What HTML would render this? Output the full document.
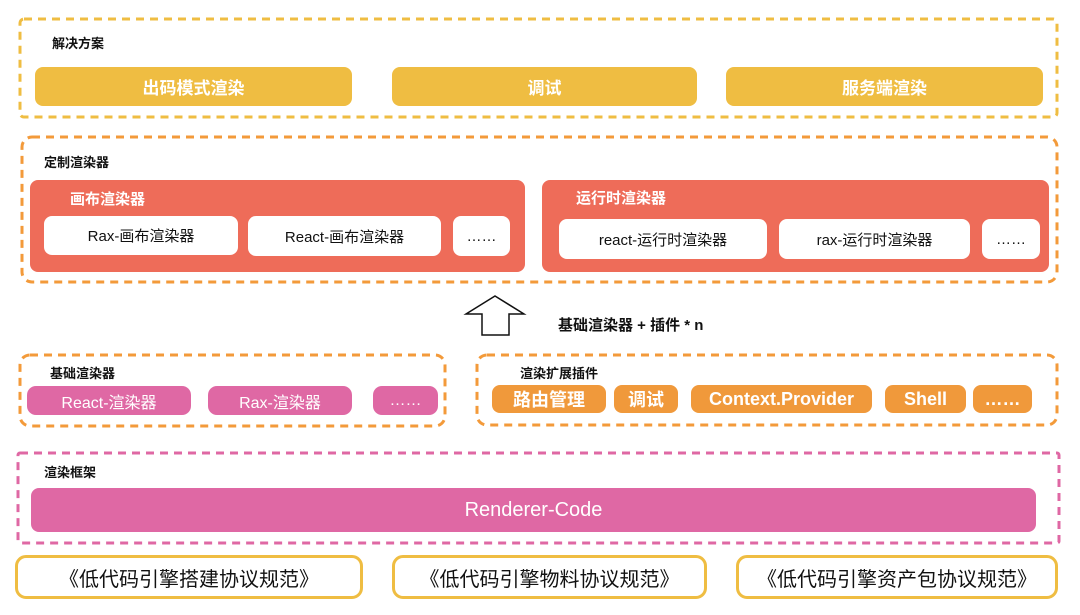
<!DOCTYPE html>
<html><head><meta charset="utf-8"><style>
body{margin:0;width:1080px;height:615px;background:#fff;position:relative;overflow:hidden;font-family:"Liberation Sans","Noto Sans CJK SC",sans-serif;}
.a{position:absolute;box-sizing:border-box;display:flex;align-items:center;justify-content:center;}
.l{position:absolute;font-size:13px;font-weight:bold;color:#111;}
.y{background:#efbd42;color:#fff;font-size:17px;font-weight:bold;border-radius:8px;}
.w{background:#fff;color:#111;font-size:15px;border-radius:8px;}
.p{background:#df68a4;color:#fff;font-size:16px;border-radius:9px;}
.o{background:#f0993b;color:#fff;font-size:18px;font-weight:bold;border-radius:8px;}
.b{border:3px solid #efbd42;border-radius:11px;font-size:20px;color:#111;}
</style></head><body>
<svg width="1080" height="615" style="position:absolute;left:0;top:0">
<g fill="none" stroke-width="3" stroke-dasharray="8 6">
<rect x="20" y="19" width="1037" height="98" rx="4" stroke="#efbd42"/>
<rect x="22" y="137" width="1035" height="145" rx="10" stroke="#f39a3a"/>
<rect x="20" y="355" width="425" height="71" rx="10" stroke="#f39a3a"/>
<rect x="477" y="355" width="580" height="70" rx="10" stroke="#f39a3a"/>
<rect x="18" y="453" width="1041" height="90" rx="2" stroke="#df68a4"/>
</g>
<polygon points="495,296 524,314 509,314 509,335 482,335 482,314 466,314" fill="#fff" stroke="#111" stroke-width="1.5"/>
</svg>
<div class="l" style="left:52px;top:33px">解决方案</div>
<div class="a y" style="left:35px;top:67px;width:317px;height:39px">出码模式渲染</div>
<div class="a y" style="left:392px;top:67px;width:305px;height:39px">调试</div>
<div class="a y" style="left:726px;top:67px;width:317px;height:39px">服务端渲染</div>
<div class="l" style="left:44px;top:152px">定制渲染器</div>
<div class="a" style="left:30px;top:180px;width:495px;height:92px;background:#ee6c59;border-radius:8px"></div>
<div class="l" style="left:70px;top:188px;color:#fff;font-size:15px">画布渲染器</div>
<div class="a w" style="left:44px;top:216px;width:194px;height:39px">Rax-画布渲染器</div>
<div class="a w" style="left:248px;top:216px;width:193px;height:40px">React-画布渲染器</div>
<div class="a w" style="left:453px;top:216px;width:57px;height:40px">……</div>
<div class="a" style="left:542px;top:180px;width:507px;height:92px;background:#ee6c59;border-radius:8px"></div>
<div class="l" style="left:576px;top:187px;color:#fff;font-size:15px">运行时渲染器</div>
<div class="a w" style="left:559px;top:219px;width:208px;height:40px">react-运行时渲染器</div>
<div class="a w" style="left:779px;top:219px;width:191px;height:40px">rax-运行时渲染器</div>
<div class="a w" style="left:982px;top:219px;width:58px;height:40px">……</div>
<div class="l" style="left:558px;top:314px;font-size:15px">基础渲染器 + 插件 * n</div>
<div class="l" style="left:50px;top:363px">基础渲染器</div>
<div class="a p" style="left:27px;top:386px;width:164px;height:29px">React-渲染器</div>
<div class="a p" style="left:208px;top:386px;width:144px;height:29px">Rax-渲染器</div>
<div class="a p" style="left:373px;top:386px;width:65px;height:29px">……</div>
<div class="l" style="left:520px;top:363px">渲染扩展插件</div>
<div class="a o" style="left:492px;top:385px;width:114px;height:28px">路由管理</div>
<div class="a o" style="left:614px;top:385px;width:64px;height:28px">调试</div>
<div class="a o" style="left:691px;top:385px;width:181px;height:28px">Context.Provider</div>
<div class="a o" style="left:885px;top:385px;width:81px;height:28px">Shell</div>
<div class="a o" style="left:973px;top:385px;width:59px;height:28px">……</div>
<div class="l" style="left:44px;top:462px">渲染框架</div>
<div class="a p" style="left:31px;top:488px;width:1005px;height:44px;font-size:20px;border-radius:8px">Renderer-Code</div>
<div class="a b" style="left:15px;top:555px;width:348px;height:44px">《低代码引擎搭建协议规范》</div>
<div class="a b" style="left:392px;top:555px;width:315px;height:44px">《低代码引擎物料协议规范》</div>
<div class="a b" style="left:736px;top:555px;width:322px;height:44px">《低代码引擎资产包协议规范》</div>
</body></html>
